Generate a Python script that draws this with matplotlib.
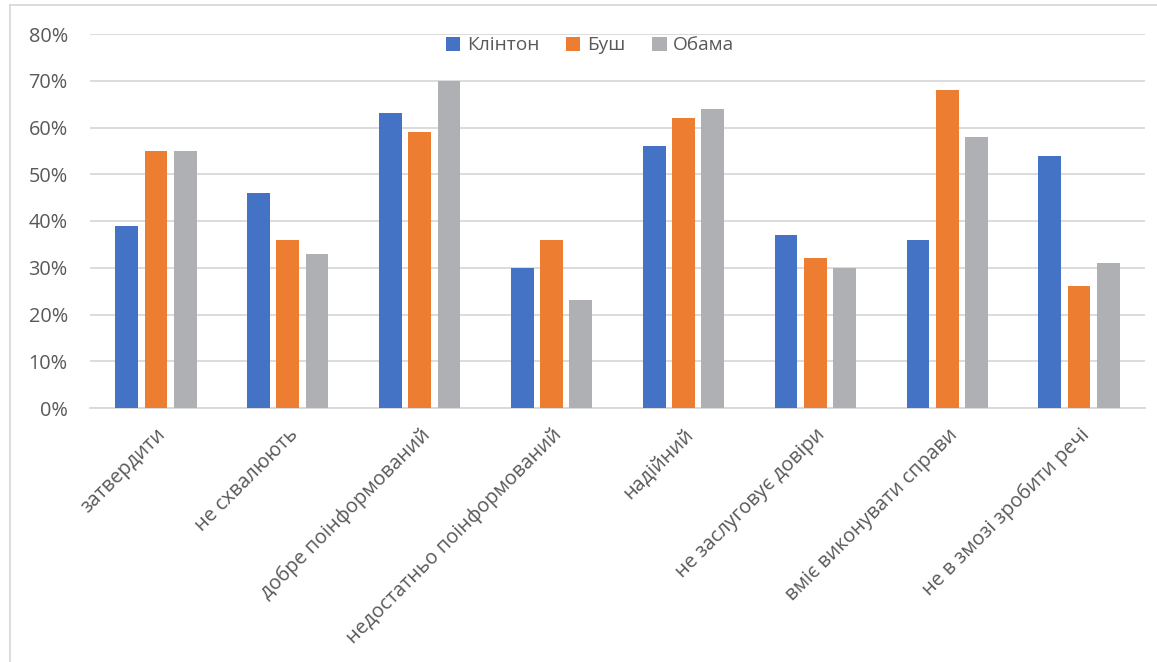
import matplotlib
matplotlib.use("Agg")
import matplotlib.pyplot as plt
import numpy as np
from matplotlib.lines import Line2D

plt.rcParams["font.family"] = ["Open Sans", "DejaVu Sans"]

# дані
categories = ["затвердити", "не схвалюють", "добре поінформований",
              "недостатньо поінформований", "надійний", "не заслуговує довіри",
              "вміє виконувати справи", "не в змозі зробити речі"]
series_names = ["Клінтон", "Буш", "Обама"]
clinton = [39, 46, 63, 30, 56, 37, 36, 54]
bush = [55, 36, 59, 36, 62, 32, 68, 26]
obama = [55, 33, 70, 23, 64, 30, 58, 31]
colors = ["#4472C4", "#ED7D31", "#AFB0B3"]

W, H = 1157, 662
fig = plt.figure(figsize=(W / 100, H / 100), dpi=100)
ax = fig.add_axes([90 / W, 1 - 408 / H, (1145 - 90) / W, (408 - 34) / H])

x = np.arange(len(categories))
bw = 0.172
step = 0.222
for i, (vals, name, c) in enumerate(zip([clinton, bush, obama], series_names, colors)):
    ax.bar(x + (i - 1) * step, vals, width=bw, color=c, label=name, zorder=3)

ax.set_xlim(-0.5, len(categories) - 0.5)
ax.set_ylim(0, 80)
ax.set_yticks(range(0, 81, 10))
ax.set_yticklabels([f"{v}%" for v in range(0, 81, 10)])
ax.yaxis.grid(True, color="#D9D9D9", linewidth=1.3, zorder=0)
ax.set_axisbelow(True)
for s in ["top", "right", "left"]:
    ax.spines[s].set_visible(False)
ax.spines["bottom"].set_color("#D9D9D9")
ax.spines["bottom"].set_linewidth(1.3)
ax.tick_params(axis="both", length=0, colors="#595959", labelsize=14.3)
ax.tick_params(axis="y", pad=16)
ax.set_xticks(x)
ax.set_xticklabels(categories, rotation=45, ha="right", rotation_mode="anchor")
ax.tick_params(axis="x", pad=12)

leg = ax.legend(loc="upper center", bbox_to_anchor=(0.474, 1.04), ncol=3, frameon=False,
                fontsize=13.8, handlelength=0.75, handleheight=0.75, handletextpad=0.35,
                columnspacing=1.4)
for t in leg.get_texts():
    t.set_color("#595959")

# рамка діаграми
fig.add_artist(Line2D([10 / W, 1], [1 - 5 / H, 1 - 5 / H], color="#D9D9D9", linewidth=1.3))
fig.add_artist(Line2D([10 / W, 10 / W], [0, 1 - 5 / H], color="#D9D9D9", linewidth=1.3))

fig.savefig("out.png", dpi=100)
